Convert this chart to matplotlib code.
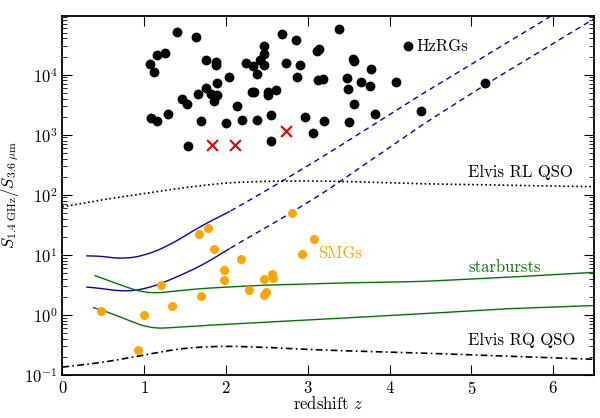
import numpy as np
import matplotlib
matplotlib.use('Agg')
import matplotlib.pyplot as plt

plt.rcParams['font.family'] = 'serif'
plt.rcParams['font.serif'] = ['cmr10', 'DejaVu Serif']
plt.rcParams['mathtext.fontset'] = 'cm'
plt.rcParams['axes.formatter.use_mathtext'] = True

# HzRGs (black dots)
hzrg_z = [1.40, 1.63, 1.26, 1.16, 1.07, 1.12, 1.46, 1.52, 1.66, 1.29, 1.08, 1.16,
          1.69, 1.54, 1.76, 1.88, 1.88, 2.04, 1.89, 1.75, 1.82, 1.89, 1.85, 2.14,
          2.00, 2.20, 2.24, 2.33, 2.41, 2.47, 2.46, 2.47, 2.38, 2.32, 2.34, 2.51,
          2.52, 2.61, 2.38, 2.55, 2.55, 2.68, 2.86, 2.74, 2.90, 2.87, 2.97, 3.07,
          3.38, 3.11, 3.14, 3.12, 3.19, 3.55, 3.57, 3.77, 3.48, 3.49, 3.65, 3.76,
          4.08, 3.57, 3.20, 3.50, 3.82, 4.39, 5.17]
hzrg_ratio = [5.2e4, 4.3e4, 2.3e4, 2.1e4, 1.5e4, 1.1e4, 4.0e3, 3.3e3, 4.8e3, 2.2e3, 1.9e3, 1.7e3,
              1.7e3, 660, 1.76e4, 1.65e4, 1.47e4, 9.1e3, 7.3e3, 6.1e3, 4.8e3, 4.5e3, 3.7e3, 3.0e3,
              1.54e3, 1.76e3, 1.54e4, 1.39e4, 1.76e4, 1.43e4, 2.2e4, 3.0e4, 1.02e4, 5.1e3, 5.1e3, 5.2e3,
              4.6e3, 5.5e3, 1.74e3, 2.1e3, 770, 4.7e4, 3.8e4, 1.58e4, 1.42e4, 9.0e3, 2.0e3, 1.07e3,
              5.8e4, 2.5e4, 2.7e4, 8.0e3, 8.5e3, 1.83e4, 1.7e4, 1.24e4, 8.7e3, 5.8e3, 7.4e3, 6.4e3,
              7.6e3, 3.2e3, 1.66e3, 1.6e3, 2.2e3, 2.5e3, 7.2e3]
key_z, key_ratio = 4.22, 3.0e4

# red crosses
cross_z = [1.83, 2.11, 2.74]
cross_ratio = [670, 670, 1.14e3]

# SMGs (orange)
smg_z = [0.47, 1.00, 0.92, 1.21, 1.34, 1.67, 1.78, 1.85, 1.70, 1.98, 1.98,
         2.18, 2.28, 2.46, 2.56, 2.58, 2.49, 2.47, 2.81, 2.93, 3.08]
smg_ratio = [1.17, 1.01, 0.26, 3.1, 1.43, 22, 28, 12.6, 2.07, 5.6, 3.8,
             8.6, 2.64, 4.0, 4.8, 4.1, 2.45, 2.15, 49, 10.5, 18.5]

# blue models (solid up to z~2, dashed beyond)
blue_hi_z = [0.30, 0.40, 0.55, 0.75, 1.03, 1.32, 1.72, 2.05, 2.66, 3.19, 4.38, 5.60, 6.00, 6.50]
blue_hi = [9.6, 9.9, 9.1, 8.5, 9.9, 14.7, 31.6, 52.7, 160, 435, 4.6e3, 4.6e4, 1.0e5, 2.5e5]
blue_lo_z = [0.30, 0.50, 0.74, 1.03, 1.32, 1.72, 2.05, 2.62, 3.19, 4.38, 5.20, 6.50]
blue_lo = [2.9, 2.75, 2.42, 2.71, 3.83, 6.8, 12.9, 35.9, 107, 1.4e3, 7.2e3, 8.5e4]
z_split = 2.05

# starburst models (green)
sb_hi_z = [0.40, 0.60, 0.80, 1.07, 1.30, 1.70, 2.40, 3.40, 4.40, 5.40, 6.50]
sb_hi = [4.5, 3.6, 2.8, 2.24, 2.43, 2.75, 3.1, 3.4, 3.6, 4.2, 5.1]
sb_lo_z = [0.38, 0.58, 0.79, 1.07, 1.32, 1.68, 2.42, 3.40, 4.38, 5.40, 6.50]
sb_lo = [1.32, 1.09, 0.83, 0.59, 0.61, 0.66, 0.745, 0.88, 1.04, 1.26, 1.43]

# Elvis QSO templates
rl_z = [0.0, 0.5, 1.0, 1.5, 2.0, 2.5, 3.0, 3.5, 4.0, 4.5, 5.0, 5.5, 6.0, 6.5]
rl = [63, 83, 105, 132, 158, 168, 170, 166, 158, 151, 148, 143, 140, 136]
rq_z = [0.0, 0.5, 1.0, 1.3, 1.6, 2.0, 2.5, 3.0, 3.5, 4.0, 4.5, 5.0, 5.5, 6.0, 6.5]
rq = [0.135, 0.162, 0.214, 0.257, 0.288, 0.302, 0.288, 0.266, 0.251, 0.240, 0.229, 0.216, 0.204, 0.193, 0.182]


def smooth(zs, vals, n=400, width=0.18):
    # interpolate in log space, then a light running mean to round the corners
    zz = np.linspace(zs[0], zs[-1], n)
    ly = np.interp(zz, zs, np.log10(vals))
    k = max(1, int(width / (zz[1] - zz[0])))
    pad = np.concatenate([np.full(k, ly[0]) * 2 - ly[k:0:-1], ly, 2 * ly[-1] - ly[-2:-k - 2:-1]])
    ly = np.convolve(pad, np.ones(2 * k + 1) / (2 * k + 1), mode='same')[k:-k]
    return zz, 10 ** ly


fig = plt.figure(figsize=(6, 4.18), dpi=100)
ax = fig.add_axes([0.104, 0.103, 0.886, 0.859])

for zs, vals in [(blue_hi_z, blue_hi), (blue_lo_z, blue_lo)]:
    zz, yy = smooth(zs, vals)
    m = zz <= z_split
    ax.plot(zz[m], yy[m], color='#0000cc', lw=1.0)
    ax.plot(zz[zz >= z_split], yy[zz >= z_split], color='#0000cc', lw=1.0, dashes=(4, 3))

for zs, vals in [(sb_hi_z, sb_hi), (sb_lo_z, sb_lo)]:
    zz, yy = smooth(zs, vals)
    ax.plot(zz, yy, color='#007700', lw=1.0)

zz, yy = smooth(rl_z, rl)
ax.plot(zz, yy, color='k', lw=1.2, ls=(0, (1, 1.6)))
zz, yy = smooth(rq_z, rq)
ax.plot(zz, yy, color='k', lw=1.2, ls=(0, (4, 2, 1, 2)))

ax.scatter(hzrg_z, hzrg_ratio, s=50, c='k', lw=0, zorder=5)
ax.scatter([key_z], [key_ratio], s=50, c='k', lw=0, zorder=5)
ax.scatter(cross_z, cross_ratio, s=60, marker='x', c='#e00000', lw=1.5, zorder=5)
ax.scatter(smg_z, smg_ratio, s=42, c='#ffa500', lw=0, zorder=5)

ax.text(4.33, 3.0e4, 'HzRGs', fontsize=12, va='center')
ax.text(4.96, 233, 'Elvis RL QSO', fontsize=12, va='center')
ax.text(3.13, 10.4, 'SMGs', fontsize=12, va='center', color='#ffa500')
ax.text(4.96, 6.1, 'starbursts', fontsize=12, va='center', color='#007700')
ax.text(4.96, 0.38, 'Elvis RQ QSO', fontsize=12, va='center')

ax.set_yscale('log')
ax.set_xlim(0, 6.5)
ax.set_ylim(0.1, 9.5e4)
ax.set_xticks([0, 1, 2, 3, 4, 5, 6])
ax.tick_params(which='both', direction='in', top=True, right=True, labelsize=12)
ax.tick_params(which='major', length=7)
ax.tick_params(which='minor', length=3.5)
for s in ax.spines.values():
    s.set_linewidth(1.3)
ax.set_xlabel('redshift $z$', fontsize=12, labelpad=-1)
ax.set_ylabel(r'$S_{1.4\ \mathrm{GHz}}/S_{3.6\ \mu\mathrm{m}}$', fontsize=12, labelpad=2)

fig.savefig('out.png', dpi=100)
